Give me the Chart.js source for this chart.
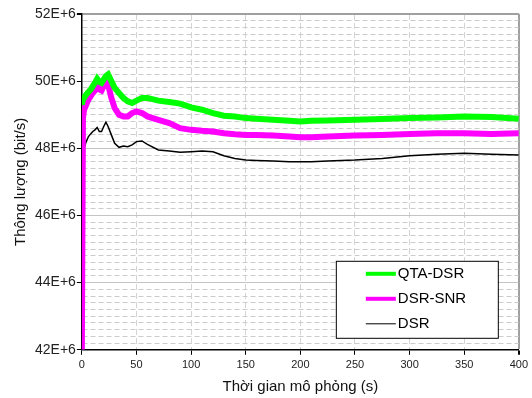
<!DOCTYPE html>
<html lang="vi">
<head>
  <meta charset="UTF-8">
  <title>Thông lượng theo thời gian mô phỏng</title>
  <script src="https://cdn.jsdelivr.net/npm/chart.js"></script>
  <style>
    body { margin: 0; background: #fff; }
  </style>
</head>
<body>
  <canvas id="throughputChart" width="532" height="398"></canvas>

  <script>
    // thời gian mô phỏng (s)
    const times = [0, 1, 2, 4, 6, 8, 10, 12, 14, 16, 18, 20, 22, 24, 27, 30, 34, 38, 42, 46, 50, 55, 60,
      70, 80, 90, 100, 110, 120, 130, 140, 150, 160, 175, 190, 200, 210, 225, 250, 275, 300, 325, 350, 375, 400];

    // throughput, in units of 1E+6 bit/s
    const qtaDsr = [49.3, 49.45, 49.5, 49.6, 49.68, 49.75, 49.85, 49.95, 50.07, 49.98, 49.95, 50.05, 50.15, 50.2, 50.0, 49.8, 49.65, 49.5, 49.4, 49.35, 49.42, 49.5, 49.5,
      49.42, 49.38, 49.33, 49.22, 49.15, 49.05, 48.97, 48.95, 48.9, 48.88, 48.85, 48.82, 48.8, 48.82, 48.83, 48.85, 48.87, 48.9, 48.92, 48.95, 48.93, 48.88];
    const dsrSnr = [42.0, 48.9, 49.15, 49.3, 49.45, 49.55, 49.65, 49.72, 49.87, 49.75, 49.72, 49.85, 49.97, 49.9, 49.5, 49.2, 49.0, 48.95, 48.95, 49.05, 49.1, 49.05, 48.95,
      48.85, 48.75, 48.6, 48.55, 48.52, 48.5, 48.45, 48.42, 48.4, 48.4, 48.38, 48.35, 48.33, 48.33, 48.35, 48.38, 48.4, 48.43, 48.45, 48.45, 48.43, 48.45];
    const dsr = [44.4, 47.7, 48.0, 48.2, 48.35, 48.43, 48.5, 48.55, 48.62, 48.5, 48.5, 48.65, 48.78, 48.65, 48.4, 48.15, 48.03, 48.07, 48.05, 48.1, 48.2, 48.22, 48.12,
      47.95, 47.92, 47.88, 47.9, 47.92, 47.9, 47.78, 47.7, 47.65, 47.64, 47.62, 47.6, 47.6, 47.6, 47.62, 47.65, 47.7, 47.78, 47.82, 47.85, 47.82, 47.8];

    const seriesNames = ['QTA-DSR', 'DSR-SNR', 'DSR'];
    const seriesColors = ['#00ff00', '#ff00ff', '#000000'];
    const seriesWidths = [6, 6, 1.5];

    const yMin = 42e6, yMax = 52e6, yMinorStep = 0.2e6, yMajorStep = 2e6;
    const xMin = 0, xMax = 400, xStep = 50;

    const font = '"Liberation Sans", Arial, sans-serif';

    const toPoints = vals => vals.map((v, i) => ({ x: times[i], y: v * 1e6 }));

    const isMajorY = v => Math.abs(v / yMajorStep - Math.round(v / yMajorStep)) < 1e-6;

    // legend box drawn inside the plot, lower right
    const legendBox = {
      id: 'legendBox',
      afterDraw(chart) {
        const c = chart.ctx, area = chart.chartArea;
        const x = area.right - 183, y = area.bottom - 89, w = 162, h = 77;
        c.save();
        c.fillStyle = '#fff';
        c.fillRect(x, y, w, h);
        c.strokeStyle = '#000';
        c.lineWidth = 1;
        c.strokeRect(x + 0.5, y + 0.5, w, h);
        c.font = '15px ' + font;
        c.textBaseline = 'middle';
        seriesNames.forEach((name, i) => {
          const ry = y + 13 + i * 25;
          c.strokeStyle = seriesColors[i];
          c.lineWidth = i < 2 ? 4 : 1;
          c.beginPath();
          c.moveTo(x + 30, ry);
          c.lineTo(x + 60, ry);
          c.stroke();
          c.fillStyle = '#000';
          c.fillText(name, x + 62, ry);
        });
        c.restore();
      }
    };

    new Chart(document.getElementById('throughputChart'), {
      type: 'line',
      data: {
        datasets: seriesNames.map((name, i) => ({
          label: name,
          data: toPoints([qtaDsr, dsrSnr, dsr][i]),
          borderColor: seriesColors[i],
          borderWidth: seriesWidths[i],
          pointRadius: 0,
          tension: 0,
          fill: false
        }))
      },
      options: {
        responsive: false,
        animation: false,
        layout: { padding: { left: 12, right: 12, top: 14, bottom: 2 } },
        plugins: {
          legend: { display: false },
          tooltip: { enabled: false }
        },
        scales: {
          x: {
            type: 'linear',
            min: xMin,
            max: xMax,
            ticks: {
              stepSize: xStep,
              color: '#222',
              padding: 4,
              font: { family: font, size: 11 }
            },
            grid: {
              color: c => c.tick && c.tick.value === xMax ? '#a0a0a0' : '#d4d4d4',
              lineWidth: c => c.tick && c.tick.value === xMax ? 2 : 1,
              tickLength: 5,
              tickColor: '#000'
            },
            border: {
              color: '#000',
              width: 1.5,
              dash: c => (c.tick && c.tick.value !== xMax) ? [6, 3] : []
            },
            title: {
              display: true,
              text: 'Thời gian mô phỏng (s)',
              color: '#111',
              padding: { top: 2, bottom: 0 },
              font: { family: font, size: 15 }
            }
          },
          y: {
            min: yMin,
            max: yMax,
            ticks: {
              stepSize: yMinorStep,
              autoSkip: false,
              color: '#222',
              padding: 1,
              font: { family: font, size: 14 },
              callback: v => isMajorY(v) ? Math.round(v / 1e6) + 'E+6' : ''
            },
            grid: {
              color: c => c.tick && c.tick.value === yMax ? '#a0a0a0' : (c.tick && isMajorY(c.tick.value) ? '#c4c4c4' : '#cccccc'),
              lineWidth: c => c.tick && c.tick.value === yMax ? 2 : 1,
              tickLength: 5,
              tickColor: c => c.tick && isMajorY(c.tick.value) ? '#000' : 'transparent'
            },
            border: {
              color: '#000',
              width: 1.5,
              dash: c => (c.tick && !isMajorY(c.tick.value)) ? [5, 3] : []
            },
            title: {
              display: true,
              text: 'Thông lượng (bit/s)',
              color: '#111',
              padding: { top: 0, bottom: 4 },
              font: { family: font, size: 15 }
            }
          }
        }
      },
      plugins: [legendBox]
    });
  </script>
</body>
</html>
